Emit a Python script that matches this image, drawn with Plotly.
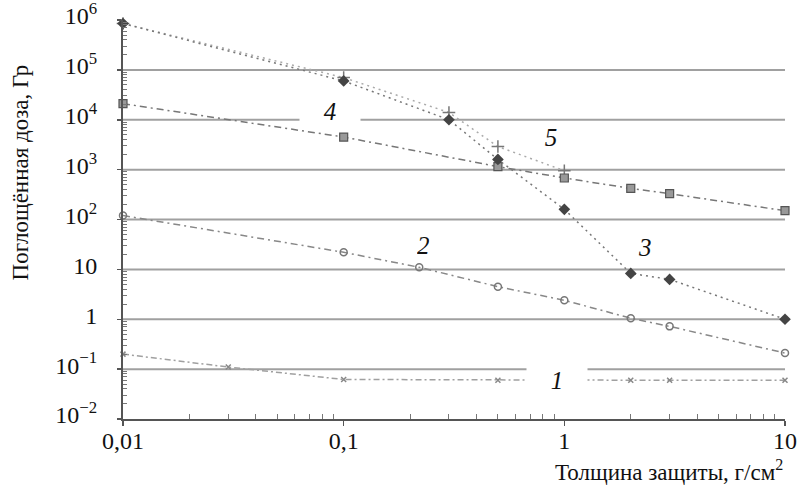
import math
import plotly.graph_objects as go

# ---- data ----
x1 = [0.01, 0.03, 0.1, 0.5, 1, 2, 3, 10]
y1 = [0.2, 0.11, 0.062, 0.06, 0.06, 0.06, 0.06, 0.06]

x2 = [0.01, 0.1, 0.22, 0.5, 1, 2, 3, 10]
y2 = [120, 22, 11, 4.5, 2.4, 1.05, 0.72, 0.21]

x3 = [0.01, 0.1, 0.3, 0.5, 1, 2, 3, 10]
y3 = [8.5e5, 6e4, 1e4, 1600, 160, 8.3, 6.3, 1.0]

x4 = [0.01, 0.1, 0.5, 1, 2, 3, 10]
y4 = [2.1e4, 4500, 1150, 680, 420, 330, 150]

x5 = [0.01, 0.1, 0.3, 0.5, 1]
y5 = [8.5e5, 7e4, 1.4e4, 2900, 950]

x_tickvals = [0.01, 0.1, 1, 10]
x_ticktext = ["0,01", "0,1", "1", "10"]
y_tickvals = [1e-2, 1e-1, 1, 10, 1e2, 1e3, 1e4, 1e5, 1e6]
y_ticktext = ["10<sup>−2</sup>", "10<sup>−1</sup>", "1", "10", "10<sup>2</sup>",
              "10<sup>3</sup>", "10<sup>4</sup>", "10<sup>5</sup>", "10<sup>6</sup>"]
grid_vals = [1e-1, 1, 10, 1e2, 1e3, 1e4, 1e5]
x_minor = [k * 10.0 ** d for d in range(-2, 1) for k in range(2, 10)]
y_minor = [k * 10.0 ** d for d in range(-2, 6) for k in range(2, 10)]

# curve labels: (text, x, y, boxed)
labels = [("1", 0.93, 0.06, True), ("2", 0.229, 31, False), ("3", 2.32, 28, False),
          ("4", 0.0867, 1.5e4, True), ("5", 0.87, 4.5e3, True)]

FONT = "Liberation Serif"

fig = go.Figure()

fig.add_trace(go.Scatter(x=x1, y=y1, mode="lines+markers",
                         line=dict(color="#a0a0a0", width=1.5, dash="6px,3px,2px,3px"),
                         marker=dict(symbol="x-thin-open", size=5, color="#888",
                                     line=dict(width=1.5, color="#888")),
                         cliponaxis=False, showlegend=False))
fig.add_trace(go.Scatter(x=x2, y=y2, mode="lines+markers",
                         line=dict(color="#888", width=1.5, dash="7px,4px,2px,4px"),
                         marker=dict(symbol="circle-open", size=7, color="#777",
                                     line=dict(width=1.5, color="#777")),
                         cliponaxis=False, showlegend=False))
fig.add_trace(go.Scatter(x=x5, y=y5, mode="lines+markers",
                         line=dict(color="#aaa", width=1.5, dash="2px,4px"),
                         marker=dict(symbol="cross-thin-open", size=9, color="#777",
                                     line=dict(width=1.5, color="#777")),
                         cliponaxis=False, showlegend=False))
fig.add_trace(go.Scatter(x=x4, y=y4, mode="lines+markers",
                         line=dict(color="#777", width=1.5, dash="7px,4px,2px,4px"),
                         marker=dict(symbol="square", size=8, color="#999",
                                     line=dict(width=1.2, color="#555")),
                         cliponaxis=False, showlegend=False))
fig.add_trace(go.Scatter(x=x3, y=y3, mode="lines+markers",
                         line=dict(color="#777", width=1.5, dash="2px,4px"),
                         marker=dict(symbol="diamond", size=9, color="#444"),
                         cliponaxis=False, showlegend=False))

shapes = []
for g in grid_vals:
    shapes.append(dict(type="line", xref="paper", yref="y", x0=0, x1=1, y0=g, y1=g,
                       line=dict(color="#a0a0a0", width=2), layer="below"))

annotations = []
for t, lx, ly, boxed in labels:
    annotations.append(dict(x=math.log10(lx), y=math.log10(ly), xref="x", yref="y",
                            text="<i>" + t + "</i>", showarrow=False,
                            font=dict(family=FONT, size=25, color="#111"),
                            bgcolor="white" if boxed else "rgba(0,0,0,0)",
                            width=58 if boxed else None, height=28))

annotations.append(dict(x=-0.155, y=0.619, xref="paper", yref="paper",
                        text="Поглощённая доза, Гр", textangle=-90, showarrow=False,
                        font=dict(family=FONT, size=23, color="#111"),
                        xanchor="center", yanchor="middle"))
annotations.append(dict(x=1.0, y=-0.128, xref="paper", yref="paper",
                        text="Толщина защиты, г/см<sup>2</sup>", showarrow=False,
                        font=dict(family=FONT, size=23, color="#111"),
                        xanchor="right", yanchor="middle"))

fig.update_layout(
    width=804, height=487,
    margin=dict(l=123, r=19, t=20, b=68, autoexpand=False),
    paper_bgcolor="white", plot_bgcolor="white",
    font=dict(family=FONT, size=24, color="#111"),
    shapes=shapes, annotations=annotations,
    hovermode=False,
    xaxis=dict(type="log", range=[-2, 1], tickvals=x_tickvals, ticktext=x_ticktext,
               showgrid=False, zeroline=False, showline=True, linecolor="#555", linewidth=2,
               ticks="outside", ticklen=5, tickcolor="#555", tickwidth=1.5,
               ticklabelstandoff=-6, automargin=False, ticklabeloverflow="allow",
               tickfont=dict(family=FONT, size=24, color="#111"),
               minor=dict(tickvals=x_minor, ticks="inside", ticklen=5, tickcolor="#777",
                          tickwidth=1, showgrid=False)),
    yaxis=dict(type="log", range=[-2, 6], tickvals=y_tickvals, ticktext=y_ticktext,
               showgrid=False, zeroline=False, showline=True, linecolor="#555", linewidth=2,
               ticks="outside", ticklen=4, tickcolor="#555", tickwidth=1.5,
               ticklabelstandoff=15, ticklabelshift=-4, automargin=False,
               ticklabeloverflow="allow",
               tickfont=dict(family=FONT, size=24, color="#111"),
               minor=dict(tickvals=y_minor, ticks="inside", ticklen=4, tickcolor="#777",
                          tickwidth=1, showgrid=False)),
)

fig.write_html("out.html",
               config={"displayModeBar": False, "staticPlot": True},
               post_script="document.body.style.margin='0px';"
                           "document.body.style.overflow='hidden';")
